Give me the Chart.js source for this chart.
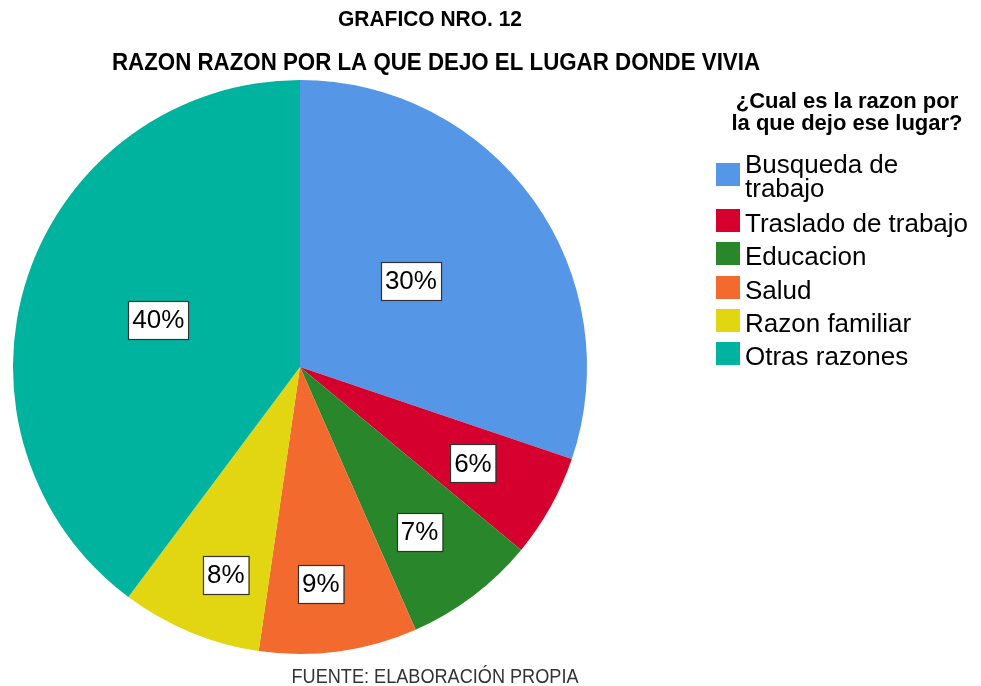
<!DOCTYPE html>
<html>
<head>
<meta charset="utf-8">
<script src="https://cdn.jsdelivr.net/npm/chart.js@4"></script>
<style>
  html, body { margin: 0; padding: 0; background: #fff; }
  #wrap { width: 981px; height: 686px; position: relative; }
</style>
</head>
<body>
<div id="wrap"><canvas id="pieChart" width="981" height="686"></canvas></div>
<script>
// datos del grafico
const categories = ["Busqueda de trabajo", "Traslado de trabajo", "Educacion", "Salud", "Razon familiar", "Otras razones"];
const values = [30.2, 5.8, 7.4, 8.9, 7.9, 39.8];
const colors = ["#5596e6", "#d6002f", "#29862a", "#f26a2e", "#e2d511", "#00b39e"];

const chartTitle = "GRAFICO NRO. 12";
const chartSubtitle = "RAZON RAZON POR LA QUE DEJO EL LUGAR DONDE VIVIA";
const legendTitle = ["¿Cual es la razon por", "la que dejo ese lugar?"];
const footerText = "FUENTE: ELABORACIÓN PROPIA";

const FONT = "'Liberation Sans', Arial, sans-serif";

// texto centrado y ajustado a un ancho dado (fuente algo condensada como en SPSS)
function fitText(ctx, txt, cx, y, width) {
  const w = ctx.measureText(txt).width;
  ctx.save();
  ctx.translate(cx, y);
  ctx.scale(width / w, 1);
  ctx.textAlign = "center";
  ctx.fillText(txt, 0, 0);
  ctx.restore();
}

// etiquetas de porcentaje dentro de cada porcion
const pctLabels = {
  id: "pctLabels",
  afterDatasetsDraw(chart, args, opts) {
    const ctx = chart.ctx;
    const meta = chart.getDatasetMeta(0);
    const total = values.reduce((s, v) => s + v, 0);
    ctx.save();
    ctx.font = "26px " + FONT;
    ctx.textAlign = "center";
    ctx.textBaseline = "middle";
    meta.data.forEach((arc, i) => {
      const p = arc.getProps(["x", "y", "startAngle", "endAngle", "outerRadius"], true);
      const mid = (p.startAngle + p.endAngle) / 2 + opts.shift[i];
      const r = p.outerRadius * opts.radius[i];
      const x = p.x + Math.cos(mid) * r;
      const y = p.y + Math.sin(mid) * r;
      const txt = Math.round((values[i] / total) * 100) + "%";
      const w = ctx.measureText(txt).width + 8;
      const h = 38;
      ctx.fillStyle = "#fff";
      ctx.fillRect(Math.round(x - w / 2), Math.round(y - h / 2), w, h);
      ctx.strokeStyle = "#333";
      ctx.lineWidth = 1.2;
      ctx.strokeRect(Math.round(x - w / 2) + 0.5, Math.round(y - h / 2) + 0.5, w, h);
      ctx.fillStyle = "#000";
      ctx.fillText(txt, x, y + 1);
    });
    ctx.restore();
  }
};

// titulos, leyenda y fuente
const textos = {
  id: "textos",
  afterDraw(chart) {
    const ctx = chart.ctx;
    ctx.save();
    ctx.fillStyle = "#000";
    ctx.textBaseline = "alphabetic";

    ctx.font = "bold 22px " + FONT;
    fitText(ctx, chartTitle, 430, 26, 184);
    ctx.font = "bold 23px " + FONT;
    fitText(ctx, chartSubtitle, 436, 70, 648);

    // leyenda
    ctx.textAlign = "center";
    ctx.font = "bold 22px " + FONT;
    ctx.fillText(legendTitle[0], 847, 108);
    ctx.fillText(legendTitle[1], 847, 130);

    ctx.textAlign = "left";
    ctx.font = "26px " + FONT;
    let base = 173;
    categories.forEach((c, i) => {
      // partir texto largo en lineas
      const words = c.split(" ");
      const lines = [];
      let cur = "";
      words.forEach((w) => {
        const test = cur ? cur + " " + w : w;
        if (ctx.measureText(test).width > 232 && cur) {
          lines.push(cur);
          cur = w;
        } else cur = test;
      });
      lines.push(cur);
      const last = base + (lines.length - 1) * 24;
      const sq = lines.length > 1 ? 163 : base - 23;
      ctx.fillStyle = colors[i];
      ctx.fillRect(716, Math.round(sq), 24, 23);
      ctx.fillStyle = "#000";
      lines.forEach((l, j) => ctx.fillText(l, 745, base + j * 24));
      base = last + (lines.length > 1 ? 35 : 33.3);
    });

    ctx.fillStyle = "#333";
    ctx.font = "20px " + FONT;
    fitText(ctx, footerText, 435, 683, 287);
    ctx.restore();
  }
};

new Chart(document.getElementById("pieChart"), {
  type: "pie",
  data: {
    labels: categories,
    datasets: [
      {
        data: values,
        backgroundColor: colors,
        borderWidth: 0,
      },
    ],
  },
  options: {
    responsive: false,
    animation: false,
    layout: {
      padding: { left: 13, top: 80, right: 394, bottom: 32 },
    },
    plugins: {
      legend: { display: false },
      tooltip: { enabled: false },
      pctLabels: {
        radius: [0.49, 0.69, 0.71, 0.76, 0.77, 0.52],
        shift: [-0.04, 0, 0.02, 0.04, -0.05, 0],
      },
    },
  },
  plugins: [pctLabels, textos],
});
</script>
</body>
</html>
